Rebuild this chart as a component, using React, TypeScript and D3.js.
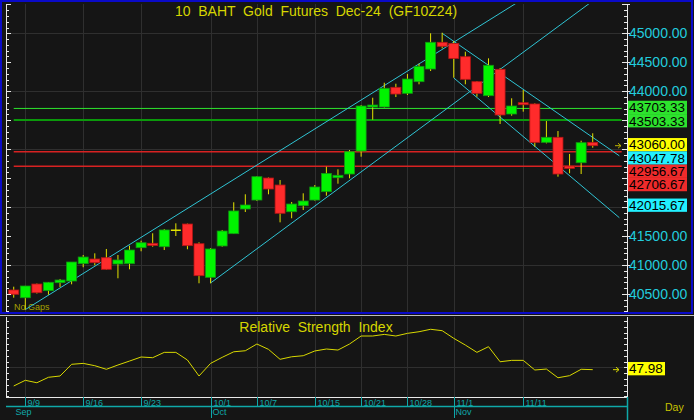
import * as d3 from "d3";

// trading days shown on the chart (Thai holidays 10/14 and 10/23 skipped)
const dates = [
  "9/6", "9/9", "9/10", "9/11", "9/12", "9/13", "9/16", "9/17", "9/18", "9/19", "9/20",
  "9/23", "9/24", "9/25", "9/26", "9/27", "9/30", "10/1", "10/2", "10/3", "10/4",
  "10/7", "10/8", "10/9", "10/10", "10/11", "10/15", "10/16", "10/17", "10/18",
  "10/21", "10/22", "10/24", "10/25", "10/28", "10/29", "10/30", "10/31",
  "11/1", "11/4", "11/5", "11/6", "11/7", "11/8", "11/11", "11/12", "11/13",
  "11/14", "11/15", "11/18", "11/19",
];

const opens = [
  40569, 40435, 40672, 40557, 40695, 40724, 41023, 41104, 41126, 41018, 41023,
  41299, 41375, 41316, 41600, 41708, 41368, 40788, 41329, 41541, 41967,
  42122, 42502, 42381, 41920, 42024, 42122, 42266, 42507, 42571,
  42968, 43736, 43728, 44068, 43964, 44165, 44384, 44845,
  44824, 44596, 44165, 43923, 44379, 43607, 43802, 43780, 43118,
  43205, 42709, 42766, 43118,
];
const highs = [
  40626, 40640, 40680, 40707, 40759, 41052, 41173, 41202, 41277, 41173, 41334,
  41420, 41548, 41622, 41720, 41715, 41392, 41294, 41605, 42083, 42221,
  42537, 42511, 42467, 42088, 42238, 42381, 42697, 42652, 42985,
  43762, 43888, 44147, 44130, 44297, 44475, 45000, 45010,
  44867, 44682, 44177, 44568, 44400, 43878, 44021, 43790, 43486,
  43313, 42917, 43146, 43274,
];
const lows = [
  40436, 40230, 40508, 40488, 40620, 40667, 40961, 40995, 40920, 40771, 40926,
  41237, 41316, 41259, 41501, 41272, 40685, 40685, 41316, 41541, 41915,
  42105, 42221, 41737, 41807, 41950, 42110, 42197, 42404, 42497,
  42870, 43509, 43719, 43900, 43935, 44120, 44349, 44741,
  44234, 44120, 43906, 43900, 43434, 43578, 43647, 43042, 43100,
  42525, 42583, 42571, 43025,
];
const closes = [
  40495, 40638, 40522, 40702, 40741, 41052, 41138, 41040, 40926, 41087, 41259,
  41385, 41337, 41605, 41600, 41334, 40816, 41277, 41587, 41933, 42036,
  42525, 42312, 41893, 42053, 42105, 42347, 42582, 42549, 42956,
  43745, 43762, 44051, 43952, 44211, 44430, 44845, 44776,
  44565, 44206, 43964, 44448, 43590, 43745, 43767, 43118, 43205,
  42571, 42669, 43112, 43060,
];

const rsiValues = [
  33.9, 38.8, 36.7, 41.4, 42.5, 52.6, 53.4, 51.4, 48.3, 52.0, 55.4,
  58.9, 58.3, 62.9, 62.9, 56.3, 42.5, 53.4, 58.6, 63.4, 64.3,
  70.1, 65.5, 56.9, 59.1, 60.0, 64.1, 65.8, 64.9, 70.1,
  77.0, 77.0, 78.4, 77.0, 79.3, 80.7, 82.8, 81.6,
  75.0, 69.2, 62.9, 67.8, 54.8, 56.0, 56.0, 47.7, 48.5,
  41.0, 42.8, 48.3, 47.98,
];

const tickDates = ["9/9", "9/16", "9/23", "10/1", "10/7", "10/15", "10/21", "10/28", "11/1", "11/11"];
const monthLabels = ["Sep", "Oct", "Nov"];
const monthStarts = ["9/6", "10/1", "11/1"];

// horizontal support / resistance levels
const levelValues = [43703.33, 43503.33, 42956.67, 42706.67];
const levelKinds = ["resist", "resist2", "support", "support"];

// trend channel anchors (date, price) -> second anchor (date, price)
const trendFromDates = ["9/9", "10/1", "10/31", "11/1"];
const trendFromPrices = [40230, 40690, 45000, 44230];
const trendToDates = ["10/31", "11/18", "11/19", "11/19"];
const trendToPrices = [44722, 45411, 43203, 42205];

// right-axis value markers
const markerValues = [43703.33, 43503.33, 43060.0, 43047.78, 42956.67, 42706.67, 42015.67];
const markerKinds = ["level", "level", "last", "channel", "stop", "stop", "channel"];

const MARKER_FILL: Record<string, string> = {
  level: "#2de32d",
  last: "#ffff00",
  channel: "#22f0ff",
  stop: "#ee2b2b",
};
const LEVEL_STROKE: Record<string, [string, number]> = {
  resist: ["#2ee52e", 1],
  resist2: ["#0b990b", 2],
  support: ["#d82222", 1.5],
};

const FONT = "'Liberation Sans', Arial, sans-serif";
const BG = "#151515";
const GRID = "#2f2f2f";
const AXIS_TEXT = "#22ccdd";
const TEAL = "#0fa8a8";
const YELLOW = "#d6d600";

const W = 694;
const H = 420;
const P = { left: 6, right: 627, top: 4, bottom: 312 };
const R = { top: 317, bottom: 397 };

export default function App() {
  const x = d3.scaleLinear().domain([-0.667, 52.96]).range([P.left, P.right]);
  const y = d3.scaleLinear().domain([40189, 45506]).range([P.bottom, P.top]);
  const ry = d3.scaleLinear().domain([24.4, 93.4]).range([R.bottom, R.top]);
  const idx = (d: string) => dates.indexOf(d);
  const fmt = d3.format(".2f");

  const bodyW = 10;
  const n = dates.length;

  // marker boxes: greedy stacking so boxes never overlap
  const boxH = 13.3;
  const order = d3.range(markerValues.length).sort((a, b) => markerValues[b] - markerValues[a]);
  let prevBottom = -Infinity;
  const boxes = order.map((i) => {
    const top = Math.max(y(markerValues[i]) - 1 - boxH / 2, prevBottom);
    prevBottom = top + boxH;
    return { i, top };
  });

  const priceTicks = d3.range(40500, 45001, 500);
  const gridPrices = d3.range(41000, 45001, 1000);
  const minorPrices = d3.range(40200, 45501, 100);
  const rsiTicks = d3.range(25, 91, 5);

  const rsiLine = d3
    .line<number>()
    .x((_, i) => x(i))
    .y((v) => ry(v));

  const lastY = y(closes[n - 1]);
  const lastR = ry(rsiValues[n - 1]);

  const arrow = (cx: number, cy: number, color: string) => (
    <g stroke={color} strokeWidth={1} fill="none">
      <line x1={cx - 3} y1={cy} x2={cx + 3} y2={cy} />
      <polyline points={`${cx},${cy - 2.5} ${cx + 3},${cy} ${cx},${cy + 2.5}`} />
    </g>
  );

  return (
    <svg
      width={W}
      height={H}
      style={{ position: "absolute", left: 0, top: 0, display: "block" }}
      fontFamily={FONT}
    >
      <rect width={W} height={H} fill={BG} />
      <defs>
        <clipPath id="plotClip">
          <rect x={P.left} y={P.top} width={P.right - P.left} height={P.bottom - P.top} />
        </clipPath>
        <clipPath id="rsiClip">
          <rect x={P.left} y={R.top} width={P.right - P.left} height={R.bottom - R.top} />
        </clipPath>
      </defs>

      {/* price panel grid */}
      {gridPrices.map((v) => (
        <line key={v} x1={P.left} x2={P.right} y1={Math.round(y(v)) + 0.5} y2={Math.round(y(v)) + 0.5} stroke={GRID} />
      ))}
      {tickDates.map((d) => {
        const xx = Math.round(x(idx(d))) + 0.5;
        return <line key={d} x1={xx} x2={xx} y1={P.top} y2={P.bottom} stroke={GRID} />;
      })}

      <text x={14} y={310} fontSize={9} fill="#a6a000">No Gaps</text>

      <g clipPath="url(#plotClip)">
        {levelValues.map((v, i) => {
          const [c, w] = LEVEL_STROKE[levelKinds[i]];
          return <line key={v} x1={x(0)} x2={x(52.5)} y1={y(v)} y2={y(v)} stroke={c} strokeWidth={w} />;
        })}

        {trendFromDates.map((d, i) => {
          const x0 = idx(d);
          const x1 = idx(trendToDates[i]);
          const slope = (trendToPrices[i] - trendFromPrices[i]) / (x1 - x0);
          const xe = 52.3;
          const pe = trendFromPrices[i] + slope * (xe - x0);
          return (
            <line
              key={i}
              x1={x(x0)}
              y1={y(trendFromPrices[i])}
              x2={x(xe)}
              y2={y(pe)}
              stroke="#2fc4d4"
              strokeWidth={1}
            />
          );
        })}

        {dates.map((d, i) => {
          const cx = x(i);
          const o = opens[i];
          const c = closes[i];
          const up = c > o;
          const doji = c === o;
          const top = y(Math.max(o, c));
          const bot = y(Math.min(o, c));
          return (
            <g key={d}>
              <line x1={cx} x2={cx} y1={y(highs[i])} y2={y(lows[i])} stroke="#e4e400" strokeWidth={1} />
              {doji ? (
                <line x1={cx - bodyW / 2} x2={cx + bodyW / 2} y1={top} y2={top} stroke="#e4e400" strokeWidth={1.5} />
              ) : (
                <rect
                  x={cx - bodyW / 2}
                  y={top}
                  width={bodyW}
                  height={Math.max(bot - top, 2)}
                  fill={up ? "#00f400" : "#ff2b2b"}
                  stroke={up ? "#129612" : "#b51515"}
                  strokeWidth={0.8}
                />
              )}
            </g>
          );
        })}
      </g>

      <text x={316} y={16} fontSize={14} textAnchor="middle" fill={YELLOW} style={{ whiteSpace: "pre" }}>
        {"10  BAHT  Gold  Futures  Dec-24  (GF10Z24)"}
      </text>

      {/* price axes */}
      <g stroke="#e8e8e8" strokeWidth={1}>
        <line x1={P.left + 0.5} x2={P.left + 0.5} y1={P.top} y2={P.bottom} />
        <line x1={P.right + 0.5} x2={P.right + 0.5} y1={P.top} y2={P.bottom} />
        {minorPrices.map((v) => {
          const yy = Math.round(y(v)) + 0.5;
          const major = v % 500 === 0;
          return (
            <g key={v}>
              <line x1={P.left} x2={P.left + (major ? 5 : 3)} y1={yy} y2={yy} />
              <line x1={P.right - (major ? 5 : 3)} x2={P.right + (major ? 3 : 1)} y1={yy} y2={yy} />
            </g>
          );
        })}
      </g>
      {priceTicks.map((v) => {
        const yy = y(v);
        const hidden = boxes.some((b) => yy + 7 > b.top && yy - 7 < b.top + boxH);
        if (hidden) return null;
        return (
          <text key={v} x={629} y={yy + 5} fontSize={14} fill={AXIS_TEXT}>
            {fmt(v)}
          </text>
        );
      })}

      {boxes.map(({ i, top }) => (
        <g key={i}>
          <rect x={628} y={top} width={59} height={boxH} fill={MARKER_FILL[markerKinds[i]]} />
          <text x={629} y={top + boxH / 2 + 4.8} fontSize={13.5} textLength={56} lengthAdjust="spacingAndGlyphs" fill="#000">
            {fmt(markerValues[i])}
          </text>
        </g>
      ))}
      {arrow(618, lastY, "#b8b000")}

      {/* frame of the active price panel */}
      <rect x={1} y={1} width={691} height={312} fill="none" stroke="#0a0ac8" strokeWidth={2} />
      <line x1={0} x2={W} y1={315.5} y2={315.5} stroke="#bdbdbd" />

      {/* RSI panel */}
      <line x1={P.left} x2={P.right} y1={Math.round(ry(50)) + 0.5} y2={Math.round(ry(50)) + 0.5} stroke={GRID} />
      {tickDates.map((d) => {
        const xx = Math.round(x(idx(d))) + 0.5;
        return <line key={d} x1={xx} x2={xx} y1={R.top} y2={R.bottom} stroke={GRID} />;
      })}
      <text x={316} y={332} fontSize={14} textAnchor="middle" fill={YELLOW} style={{ whiteSpace: "pre" }}>
        {"Relative  Strength  Index"}
      </text>
      <path d={rsiLine(rsiValues) ?? ""} fill="none" stroke="#d8d800" strokeWidth={1} clipPath="url(#rsiClip)" />
      <g stroke="#e8e8e8" strokeWidth={1}>
        <line x1={P.left + 0.5} x2={P.left + 0.5} y1={R.top} y2={R.bottom} />
        <line x1={P.right + 0.5} x2={P.right + 0.5} y1={R.top} y2={R.bottom} />
        <line x1={P.left} x2={P.right + 1} y1={R.bottom + 0.5} y2={R.bottom + 0.5} />
        {rsiTicks.map((v) => {
          const yy = Math.round(ry(v)) + 0.5;
          return (
            <g key={v}>
              <line x1={P.left} x2={P.left + 3} y1={yy} y2={yy} />
              <line x1={P.right - 3} x2={P.right + 1} y1={yy} y2={yy} />
            </g>
          );
        })}
      </g>
      <rect x={628} y={lastR - 1 - boxH / 2} width={37} height={boxH} fill="#ffff00" />
      <text x={629} y={lastR - 1 + 4.8} fontSize={13.5} fill="#000">
        {fmt(rsiValues[n - 1])}
      </text>
      {arrow(616, lastR, "#d8d800")}

      {/* date axis */}
      <line x1={P.left} x2={P.right} y1={406.5} y2={406.5} stroke={TEAL} strokeWidth={1.5} />
      <line x1={P.right + 0.5} x2={P.right + 0.5} y1={R.bottom} y2={H} stroke={TEAL} strokeWidth={1.5} />
      {tickDates.map((d) => {
        const xx = Math.round(x(idx(d))) + 0.5;
        return (
          <g key={d}>
            <line x1={xx} x2={xx} y1={R.bottom} y2={406.5} stroke={TEAL} />
            <text x={xx + 2} y={405.5} fontSize={9} fill={TEAL}>
              {d}
            </text>
          </g>
        );
      })}
      {monthLabels.map((m, i) => {
        const xx = Math.round(x(idx(monthStarts[i]))) + 0.5;
        return (
          <g key={m}>
            {i > 0 && <line x1={xx} x2={xx} y1={406.5} y2={418} stroke={TEAL} />}
            <text x={xx + 1} y={415} fontSize={9} fill={TEAL}>
              {m}
            </text>
          </g>
        );
      })}
      <text x={665} y={411} fontSize={10.5} fill="#c8c400">Day</text>
    </svg>
  );
}
